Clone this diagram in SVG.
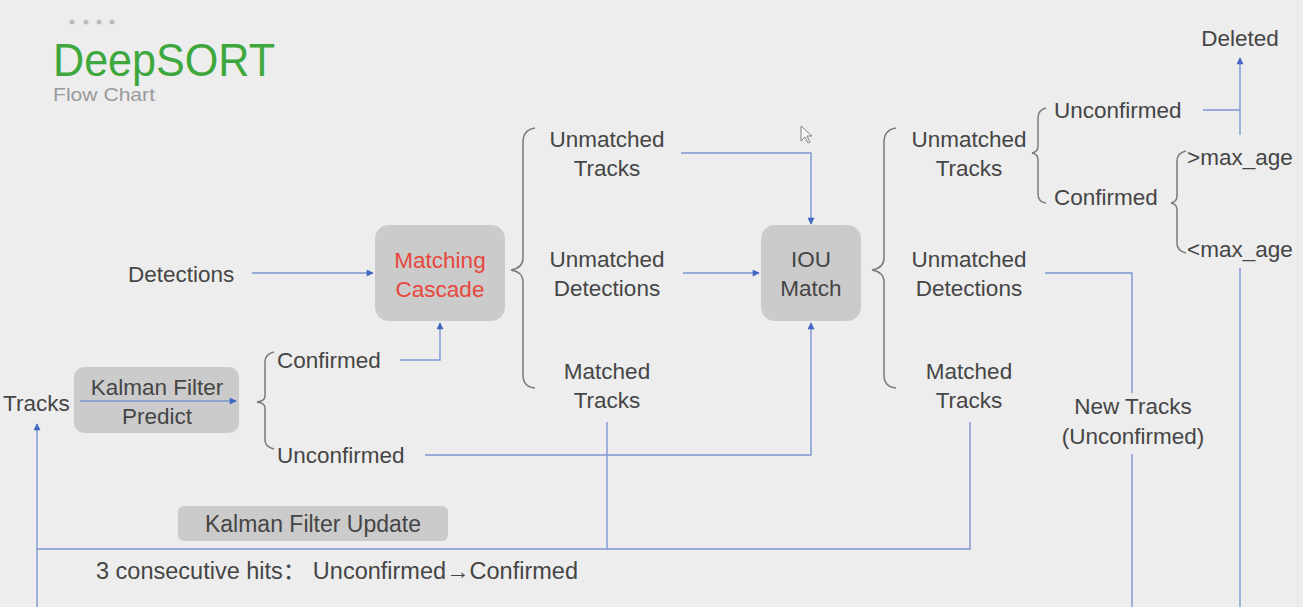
<svg xmlns="http://www.w3.org/2000/svg" width="1303" height="607" viewBox="0 0 1303 607">
<defs>
<marker id="ah" viewBox="0 0 10 10" refX="9" refY="5" markerWidth="8" markerHeight="7" markerUnits="userSpaceOnUse" orient="auto">
<path d="M0,0 L10,5 L0,10 z" fill="#3f66c0"/>
</marker>
<style>
.t{font-family:"Liberation Sans","Noto Sans CJK SC",sans-serif;font-size:22.5px;fill:#454545;text-anchor:middle}
.s{text-anchor:start}
.box{fill:#cbcbcb}
.br{fill:none;stroke:#7a7a7a;stroke-width:1.5}
.c{fill:none;stroke:#7c95d2;stroke-width:1.4}
.a{marker-end:url(#ah)}
</style>
</defs>
<rect x="0" y="0" width="1303" height="607" fill="#ededed"/>
<line x1="1298" y1="0" x2="1298" y2="607" stroke="#e2e2e2" stroke-width="1"/>

<g id="title">
<circle cx="72" cy="22" r="2.5" fill="#bdbdbd"/>
<circle cx="86" cy="22" r="2.5" fill="#bdbdbd"/>
<circle cx="99" cy="22" r="2.5" fill="#bdbdbd"/>
<circle cx="112" cy="22" r="2.5" fill="#bdbdbd"/>
<text x="53" y="76" font-family="'Liberation Sans',sans-serif" font-size="46" fill="#3ea83e" textLength="222" lengthAdjust="spacingAndGlyphs">DeepSORT</text>
<text x="53" y="101" font-family="'Liberation Sans',sans-serif" font-size="19" fill="#9a9a9a" textLength="102" lengthAdjust="spacingAndGlyphs">Flow Chart</text>
</g>

<g id="braces">
<path class="br" d="M535,128 Q523,130 523,142 L523,258 Q523,268 511,270 Q523,272 523,282 L523,375 Q523,387 535,388"/>
<path class="br" d="M896,128 Q884,130 884,142 L884,258 Q884,268 872,270 Q884,272 884,282 L884,375 Q884,387 896,388"/>
<path class="br" d="M1046,108 Q1038,110 1038,118 L1038,146 Q1038,152 1032,153 Q1038,154 1038,160 L1038,194 Q1038,202 1046,203"/>
<path class="br" d="M1186,151 Q1177,153 1177,161 L1177,196 Q1177,202 1171,203 Q1177,204 1177,210 L1177,243 Q1177,251 1186,253"/>
<path class="br" d="M274,352 Q265,354 265,362 L265,396 Q265,401 257,402 Q265,403 265,408 L265,440 Q265,447 274,449"/>
</g>

<g id="detections"><text class="t s" x="128" y="282">Detections</text></g>

<g id="tracks"><text class="t s" x="3" y="411">Tracks</text></g>

<g id="kf-predict">
<rect class="box" x="74" y="367" width="165" height="66" rx="10"/>
<text class="t" x="157" y="395">Kalman Filter</text>
<text class="t" x="157" y="424">Predict</text>
</g>

<g id="confirmed"><text class="t s" x="277" y="368">Confirmed</text></g>
<g id="unconfirmed"><text class="t s" x="277" y="463">Unconfirmed</text></g>

<g id="matching-cascade">
<rect class="box" x="375" y="225" width="130" height="96" rx="14"/>
<text class="t" x="440" y="268" style="fill:#e8463c">Matching</text>
<text class="t" x="440" y="297" style="fill:#e8463c">Cascade</text>
</g>

<g id="mc-unmatched-tracks">
<text class="t" x="607" y="147">Unmatched</text>
<text class="t" x="607" y="176">Tracks</text>
</g>
<g id="mc-unmatched-detections">
<text class="t" x="607" y="267">Unmatched</text>
<text class="t" x="607" y="296">Detections</text>
</g>
<g id="mc-matched-tracks">
<text class="t" x="607" y="379">Matched</text>
<text class="t" x="607" y="408">Tracks</text>
</g>

<g id="iou-match">
<rect class="box" x="761" y="225" width="100" height="96" rx="14"/>
<text class="t" x="811" y="267">IOU</text>
<text class="t" x="811" y="296">Match</text>
</g>

<g id="iou-unmatched-tracks">
<text class="t" x="969" y="147">Unmatched</text>
<text class="t" x="969" y="176">Tracks</text>
</g>
<g id="iou-unmatched-detections">
<text class="t" x="969" y="267">Unmatched</text>
<text class="t" x="969" y="296">Detections</text>
</g>
<g id="iou-matched-tracks">
<text class="t" x="969" y="379">Matched</text>
<text class="t" x="969" y="408">Tracks</text>
</g>

<g id="ut-unconfirmed"><text class="t s" x="1054" y="118">Unconfirmed</text></g>
<g id="ut-confirmed"><text class="t s" x="1054" y="205">Confirmed</text></g>
<g id="gt-max-age"><text class="t s" x="1187" y="165">&gt;max_age</text></g>
<g id="lt-max-age"><text class="t s" x="1187" y="257">&lt;max_age</text></g>
<g id="deleted"><text class="t" x="1240" y="46">Deleted</text></g>

<g id="new-tracks">
<text class="t" x="1133" y="414">New Tracks</text>
<text class="t" x="1133" y="444">(Unconfirmed)</text>
</g>

<g id="kf-update">
<rect class="box" x="178" y="506" width="270" height="35" rx="6"/>
<text class="t" x="313" y="532" style="font-size:23px">Kalman Filter Update</text>
</g>

<g id="note">
<text class="t s" x="96" y="579" style="font-size:23px" textLength="482" lengthAdjust="spacingAndGlyphs">3 consecutive hits： Unconfirmed→Confirmed</text>
</g>

<g id="connectors">
<line class="c a" x1="252" y1="273" x2="373" y2="273"/>
<polyline class="c a" points="400,360 440,360 440,323"/>
<polyline class="c a" points="425,455 811,455 811,323"/>
<polyline class="c a" points="681,153 811,153 811,224"/>
<line class="c a" x1="683" y1="273" x2="759" y2="273"/>
<line class="c" x1="607" y1="422" x2="607" y2="549"/>
<polyline class="c" points="970,422 970,549 37,549"/>
<line class="c a" x1="37" y1="607" x2="37" y2="424"/>
<line class="c a" x1="80" y1="401" x2="236" y2="401"/>
<polyline class="c" points="1045,273 1132,273 1132,393"/>
<line class="c" x1="1132" y1="454" x2="1132" y2="607"/>
<line class="c" x1="1240" y1="268" x2="1240" y2="607"/>
<line class="c" x1="1203" y1="110" x2="1240" y2="110"/>
<line class="c a" x1="1240" y1="135" x2="1240" y2="58"/>
</g>

<g id="cursor">
<path d="M801,126 L801,141 L805,137 L808,143 L810,142 L807,136 L812,136 Z" fill="#f4f4f4" stroke="#777" stroke-width="0.9"/>
</g>
</svg>
